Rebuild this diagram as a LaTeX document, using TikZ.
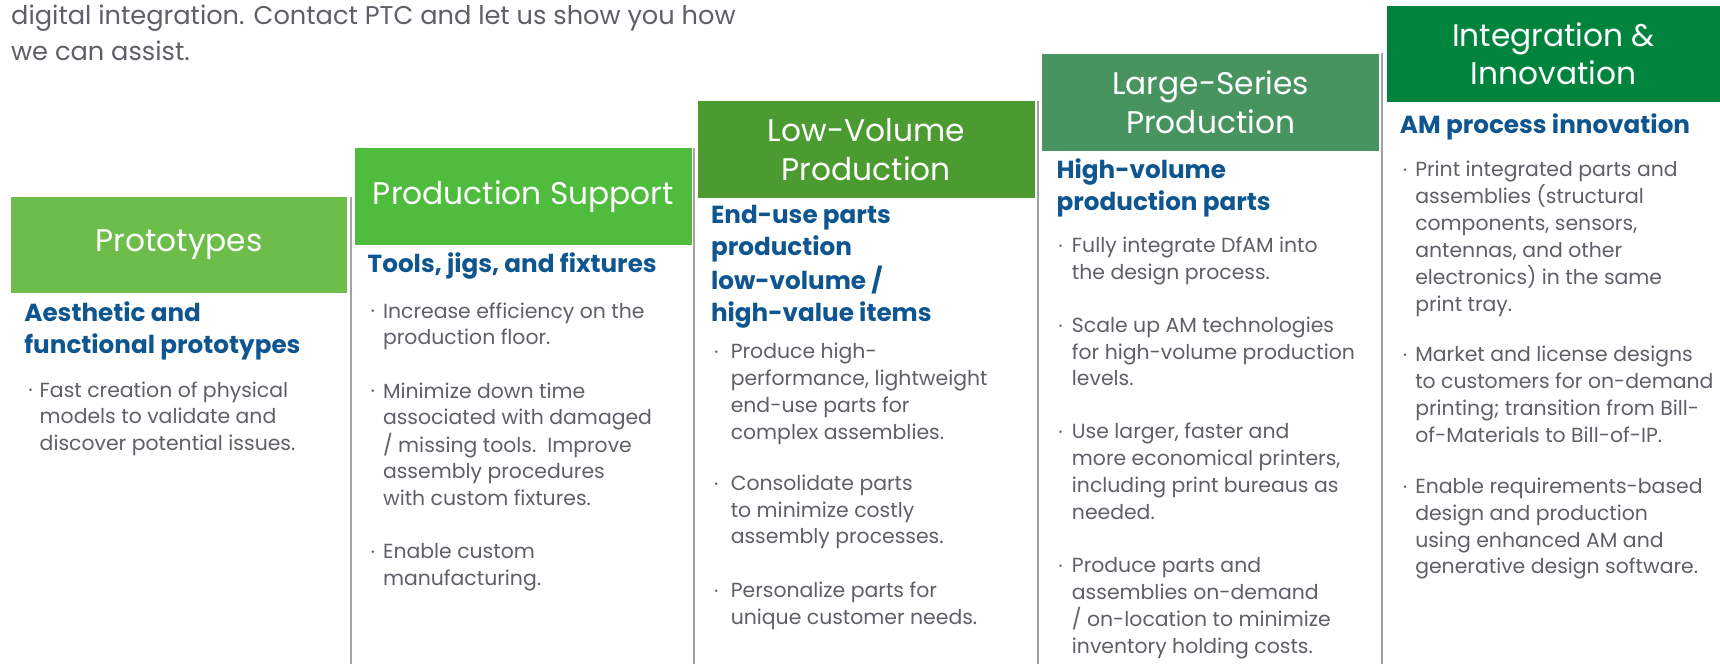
\documentclass[tikz,border=0pt]{standalone}
\usepackage{fontspec}
\setmainfont{Poppins}
\definecolor{hA}{HTML}{6CBD4A}
\definecolor{hB}{HTML}{50BC3E}
\definecolor{hC}{HTML}{4C9B30}
\definecolor{hD}{HTML}{489460}
\definecolor{hE}{HTML}{00843D}
\definecolor{tblue}{HTML}{0F558F}
\definecolor{bgray}{HTML}{5B6166}
\definecolor{lgray}{HTML}{A3A3A3}
\newcommand{\mylines}[1]{\begin{tabular}[t]{@{}l@{}}#1\end{tabular}}
\tikzset{
  hdr/.style={anchor=north west, inner sep=0pt, minimum width=307pt, minimum height=88pt,
    text=white, align=center, font=\fontsize{28.5}{35}\selectfont},
  ttl/.style={anchor=base west, inner sep=0pt, text=tblue,
    font=\fontsize{22.5}{29}\selectfont\bfseries},
  body/.style={anchor=base west, inner sep=0pt, text=bgray,
    font=\fontsize{18.6}{24.4}\selectfont},
  bul/.style={inner sep=0pt, text=bgray, font=\fontsize{9}{9}\selectfont},
  sep/.style={draw=lgray, line width=2pt}
}
\begin{document}
\begin{tikzpicture}[x=1pt,y=-1pt]
\useasboundingbox (0,0) rectangle (1568,611);
% intro text
\node[body, font=\fontsize{23.4}{33}\selectfont] (intro) at (10,22)
  {\mylines{digital integration. Contact PTC and let us show you how\\we can assist.}};
% headers
\node[hdr, fill=hA, minimum width=306pt] (h1) at (10,179) {Prototypes};
\node[hdr, fill=hB, minimum width=308pt] (h2) at (323,135) {Production Support};
\node[hdr, fill=hC] (h3) at (636,92) {Low-Volume\\Production};
\node[hdr, fill=hD] (h4) at (950,49) {Large-Series\\Production};
\node[hdr, fill=hE, minimum width=304pt] (h5) at (1264,5) {Integration \&\\Innovation};
% separators
\coordinate (s1t) at (320,180); \coordinate (s1b) at (320,605);
\coordinate (s2t) at (633,135); \coordinate (s2b) at (633,605);
\coordinate (s3t) at (946,92);  \coordinate (s3b) at (946,605);
\coordinate (s4t) at (1260,48); \coordinate (s4b) at (1260,605);
\draw[sep] (s1t) -- (s1b);
\draw[sep] (s2t) -- (s2b);
\draw[sep] (s3t) -- (s3b);
\draw[sep] (s4t) -- (s4b);
% column 1
\node[ttl] (t1) at (22,293) {\mylines{Aesthetic and\\functional prototypes}};
\node[bul] (d11) at (28,357) {•};
\node[body] (b11) at (36,362) {\mylines{Fast creation of physical\\models to validate and\\discover potential issues.}};
% column 2
\node[ttl] (t2) at (335,248) {\mylines{Tools, jigs, and fixtures}};
\node[bul] (d21) at (340,285) {•};
\node[body] (b21) at (349,290) {\mylines{Increase efficiency on the\\production floor.}};
\node[bul] (d22) at (340,358) {•};
\node[body] (b22) at (349,363) {\mylines{Minimize down time\\associated with damaged\\/ missing tools.\ \ Improve\\assembly procedures\\with custom fixtures.}};
\node[bul] (d23) at (340,504) {•};
\node[body] (b23) at (349,509) {\mylines{Enable custom\\manufacturing.}};
% column 3
\node[ttl, font=\fontsize{22.5}{29.3}\selectfont\bfseries] (t3) at (648,204) {\mylines{End-use parts\\production\\low-volume /\\high-value items}};
\node[bul] (d31) at (653,322) {•};
\node[body] (b31) at (666,327) {\mylines{Produce high-\\performance, lightweight\\end-use parts for\\complex assemblies.}};
\node[bul] (d32) at (653,442) {•};
\node[body] (b32) at (666,447) {\mylines{Consolidate parts\\to minimize costly\\assembly processes.}};
\node[bul] (d33) at (653,540) {•};
\node[body] (b33) at (666,545) {\mylines{Personalize parts for\\unique customer needs.}};
% column 4
\node[ttl] (t4) at (963,163) {\mylines{High-volume\\production parts}};
\node[bul] (d41) at (967,225) {•};
\node[body] (b41) at (977,230) {\mylines{Fully integrate DfAM into\\the design process.}};
\node[bul] (d42) at (967,298) {•};
\node[body] (b42) at (977,303) {\mylines{Scale up AM technologies\\for high-volume production\\levels.}};
\node[bul] (d43) at (967,395) {•};
\node[body] (b43) at (977,400) {\mylines{Use larger, faster and\\more economical printers,\\including print bureaus as\\needed.}};
\node[bul] (d44) at (967,517) {•};
\node[body] (b44) at (977,522) {\mylines{Produce parts and\\assemblies on-demand\\/ on-location to minimize\\inventory holding costs.}};
% column 5
\node[ttl] (t5) at (1276,122) {\mylines{AM process innovation}};
\node[bul] (d51) at (1281,156) {•};
\node[body] (b51) at (1290,161) {\mylines{Print integrated parts and\\assemblies (structural\\components, sensors,\\antennas, and other\\electronics) in the same\\print tray.}};
\node[bul] (d52) at (1281,325) {•};
\node[body] (b52) at (1290,330) {\mylines{Market and license designs\\to customers for on-demand\\printing; transition from Bill-\\of-Materials to Bill-of-IP.}};
\node[bul] (d53) at (1281,445) {•};
\node[body] (b53) at (1290,450) {\mylines{Enable requirements-based\\design and production\\using enhanced AM and\\generative design software.}};
\end{tikzpicture}
\end{document}
